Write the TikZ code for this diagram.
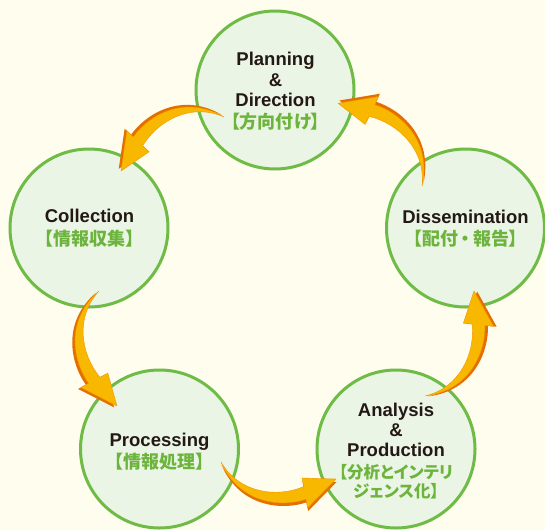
\documentclass[tikz,border=0pt]{standalone}
\usepackage{fontspec}
\setmainfont{Liberation Sans}
\newfontfamily\jpfont{Noto Sans CJK JP}[RawFeature=+palt]
\usetikzlibrary{calc}
\definecolor{bgc}{RGB}{255,253,238}
\definecolor{ringc}{RGB}{110,187,70}
\definecolor{cfill}{RGB}{235,245,229}
\definecolor{txtc}{RGB}{35,24,21}
\definecolor{jpc}{RGB}{108,180,60}
\definecolor{arrowc}{RGB}{249,184,0}
\definecolor{arrowedge}{RGB}{240,150,0}
\definecolor{shadowc}{RGB}{228,110,0}
\tikzset{
  stage/.style={circle, draw=ringc, line width=3pt, fill=cfill, minimum size=158pt, inner sep=0pt},
  lat/.style={anchor=base, inner sep=0pt, text=txtc, font=\fontsize{18.5}{20}\selectfont\bfseries},
  jp/.style={anchor=base, inner sep=0pt, text=jpc, font=\jpfont\fontsize{18}{22}\selectfont\bfseries},
  jps/.style={anchor=base, inner sep=0pt, text=jpc, font=\jpfont\fontsize{16.5}{19}\selectfont\bfseries},
  cyclearrow/.pic={
    \fill[shadowc] (1,3) .. controls (26,43) and (69,39) .. (91.1,27.6) -- (94,36) -- (118,3) -- (84,7) -- (86.9,15.4) .. controls (61,31) and (23,31) .. (1,3) -- cycle;
    \fill[arrowc, draw=arrowedge, line width=0.4pt, line join=round] (0,0) .. controls (25,40) and (68,36) .. (90.1,24.6) -- (93,33) -- (117,0) -- (83,4) -- (85.9,12.4) .. controls (60,28) and (22,28) .. (0,0) -- cycle;
  }
}
\begin{document}
\begin{tikzpicture}[x=1pt,y=-1pt]
\fill[bgc] (0,0) rectangle (545,530);
\useasboundingbox (0,0) rectangle (545,530);

\node[stage] (plan) at (275,90) {};
\node[stage] (coll) at (89,228) {};
\node[stage] (diss) at (465.5,228) {};
\node[stage] (proc) at (159.5,449) {};
\node[stage] (anal) at (396,449) {};

\node[lat] (planA) at (275.5,65) {Planning};
\node[lat] (planB) at (275.5,86) {\&};
\node[lat] (planC) at (275.5,106) {Direction};
\node[jp] (planD) at (275.5,128) {【方向付け】};

\node[lat] (collA) at (89.5,222) {Collection};
\node[jp] (collB) at (89.5,245) {【情報収集】};

\node[lat] (dissA) at (465.5,223) {Dissemination};
\node[jp] (dissB) at (465.5,245.5) {【配付\hspace{3pt}・\hspace{3pt}報告】};

\node[lat] (procA) at (159.5,446) {Processing};
\node[jp] (procB) at (159.5,468.5) {【情報処理】};

\node[lat] (analA) at (396,416) {Analysis};
\node[lat] (analB) at (396,436) {\&};
\node[lat] (analC) at (396,456) {Production};
\node[jps] (analD) at (396,478.5) {【分析とインテリ};
\node[jps] (analE) at (396,497.5) {ジェンス化】};

\coordinate (t1) at (224,117);   \coordinate (h1) at (121,171);
\coordinate (t2) at (99,291);    \coordinate (h2) at (117,406);
\coordinate (t3) at (221,462);   \coordinate (h3) at (336,479);
\coordinate (t4) at (425,396);   \coordinate (h4) at (474,291);
\coordinate (t5) at (422,186);   \coordinate (h5) at (338,103.3);

\foreach \i in {1,...,5}{
  \path let \p1=($(h\i)-(t\i)$), \n1={atan2(\y1,\x1)}, \n2={veclen(\x1,\y1)/117} in
    (t\i) pic[rotate=\n1, scale=\n2] {cyclearrow};
}
\end{tikzpicture}
\end{document}
